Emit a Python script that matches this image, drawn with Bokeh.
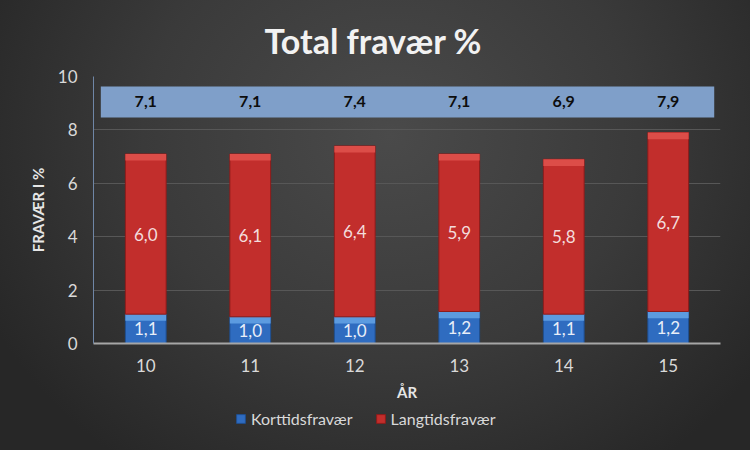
from bokeh.plotting import figure
from bokeh.layouts import column
from bokeh.models import ColumnDataSource, BoxAnnotation, Legend, LegendItem, Range1d, FactorRange
from bokeh.core.properties import value
from bokeh.embed import file_html
from bokeh.resources import INLINE

years = ["10", "11", "12", "13", "14", "15"]
kort = [1.1, 1.0, 1.0, 1.2, 1.1, 1.2]
lang = [6.0, 6.1, 6.4, 5.9, 5.8, 6.7]
total = [7.1, 7.1, 7.4, 7.1, 6.9, 7.9]
series_names = ["Korttidsfravær", "Langtidsfravær"]

FONT = "Lato"
BLUE, BLUE_HL, BLUE_LN = "#2f6cc0", "#5c9be0", "#1f4f90"
RED, RED_HL, RED_LN = "#c22e2c", "#dc4d48", "#8e1c1b"
fmt = lambda v: f"{v:.1f}".replace(".", ",")

p = figure(frame_width=627, frame_height=267, x_range=FactorRange(*years), y_range=Range1d(0, 10),
           output_backend="svg", toolbar_location=None,
           min_border_left=93, min_border_right=30, min_border_top=76, min_border_bottom=64)
p.border_fill_alpha = 0
p.background_fill_alpha = 0
p.outline_line_color = None

p.title.text = "Total fravær %"
p.title.align = "left"
p.title.offset = 171
p.title.text_font = FONT
p.title.text_font_size = "34px"
p.title.text_font_style = "bold"
p.title.text_color = "#f2f2f2"
p.title.standoff = 32

band = BoxAnnotation(bottom=8.46, top=9.63, left=0.07, right=5.94,
                     fill_color="#7f9fc9", fill_alpha=1.0, line_color=None, level="underlay")
p.add_layout(band)

top_k = kort
top_l = [k + l for k, l in zip(kort, lang)]
src = ColumnDataSource(dict(
    x=years, kort=kort, lang=lang, total=total, top_k=top_k, top_l=top_l,
    kort_mid=[k / 2 for k in kort], lang_mid=[k + l / 2 for k, l in zip(kort, lang)],
    kort_lbl=[fmt(v) for v in kort], lang_lbl=[fmt(v) for v in lang], tot_lbl=[fmt(v) for v in total],
    tot_y=[9.05] * len(years),
    k_hl_bot=[t - 0.25 for t in top_k], l_hl_bot=[t - 0.25 for t in top_l],
))

w = 0.39
p.vbar(x="x", bottom=0, top="top_k", width=w, source=src, fill_color=BLUE, line_color=BLUE_LN, line_width=1)
p.vbar(x="x", bottom="k_hl_bot", top="top_k", width=w, source=src, fill_color=BLUE_HL, line_color=None)
p.vbar(x="x", bottom="top_k", top="top_l", width=w, source=src, fill_color=RED, line_color=RED_LN, line_width=1)
p.vbar(x="x", bottom="l_hl_bot", top="top_l", width=w, source=src, fill_color=RED_HL, line_color=None)

p.text(x="x", y="kort_mid", text="kort_lbl", source=src, text_align="center", text_baseline="middle",
       text_font=value(FONT), text_font_size="17px", text_color="#e8eef8")
p.text(x="x", y="lang_mid", text="lang_lbl", source=src, text_align="center", text_baseline="middle",
       text_font=value(FONT), text_font_size="17px", text_color="#f3dcdc")
p.text(x="x", y="tot_y", text="tot_lbl", source=src, text_align="center", text_baseline="middle",
       text_font=value(FONT), text_font_size="16px", text_font_style="bold", text_color="#0d0d0d")

p.xgrid.grid_line_color = None
p.ygrid.grid_line_color = "#575757"
p.yaxis.ticker = [0, 2, 4, 6, 8, 10]

for ax in (p.xaxis[0], p.yaxis[0]):
    ax.major_tick_line_color = None
    ax.minor_tick_line_color = None
    ax.major_tick_out = 0
    ax.major_tick_in = 0
    ax.minor_tick_out = 0
    ax.major_label_text_font = FONT
    ax.major_label_text_font_size = "17px"
    ax.major_label_text_color = "#d9d9d9"
    ax.axis_label_text_font = FONT
    ax.axis_label_text_font_style = "bold"
    ax.axis_label_text_color = "#e6e6e6"
    ax.axis_label_text_font_size = "15px"

p.xaxis.axis_label = "ÅR"
p.xaxis.axis_line_color = "#a6a6a6"
p.xaxis.axis_line_width = 2
p.xaxis.major_label_standoff = 15
p.xaxis.axis_label_standoff = 8
p.yaxis.axis_label = "FRAVÆR I %"
p.yaxis.axis_line_color = "#6f86a6"
p.yaxis.axis_line_width = 1
p.yaxis.major_label_standoff = 16
p.yaxis.axis_label_standoff = 8

# separate strip holding the legend (its swatch renderers sit outside its visible range)
lf = figure(width=750, height=43, x_range=(0, 1), y_range=(0, 1), output_backend="svg",
            toolbar_location=None, x_axis_location=None, y_axis_location=None, min_border=0)
lf.border_fill_alpha = 0
lf.background_fill_alpha = 0
lf.outline_line_color = None
lf.grid.grid_line_color = None
swatch = ColumnDataSource(dict(x=[-5.0], top=[-5.0]))
lk = lf.vbar(x="x", top="top", width=0.1, source=swatch, fill_color=BLUE, line_color=BLUE_LN)
ll = lf.vbar(x="x", top="top", width=0.1, source=swatch, fill_color=RED, line_color=RED_LN)
legend = Legend(items=[LegendItem(label=series_names[0], renderers=[lk]),
                       LegendItem(label=series_names[1], renderers=[ll])],
                orientation="horizontal", location=(142, 22),
                background_fill_alpha=0, border_line_color=None,
                label_text_font=FONT, label_text_font_size="16px", label_text_color="#d9d9d9",
                glyph_width=11, glyph_height=11, spacing=22, padding=2, margin=0)
lf.add_layout(legend)

layout = column(p, lf, spacing=0)
layout.styles = {"background": "radial-gradient(ellipse 60% 90% at 52% 30%, #4a4a4a 0%, #3a3a3a 55%, #272727 100%)"}

open("out.html", "w").write(file_html(layout, INLINE))
